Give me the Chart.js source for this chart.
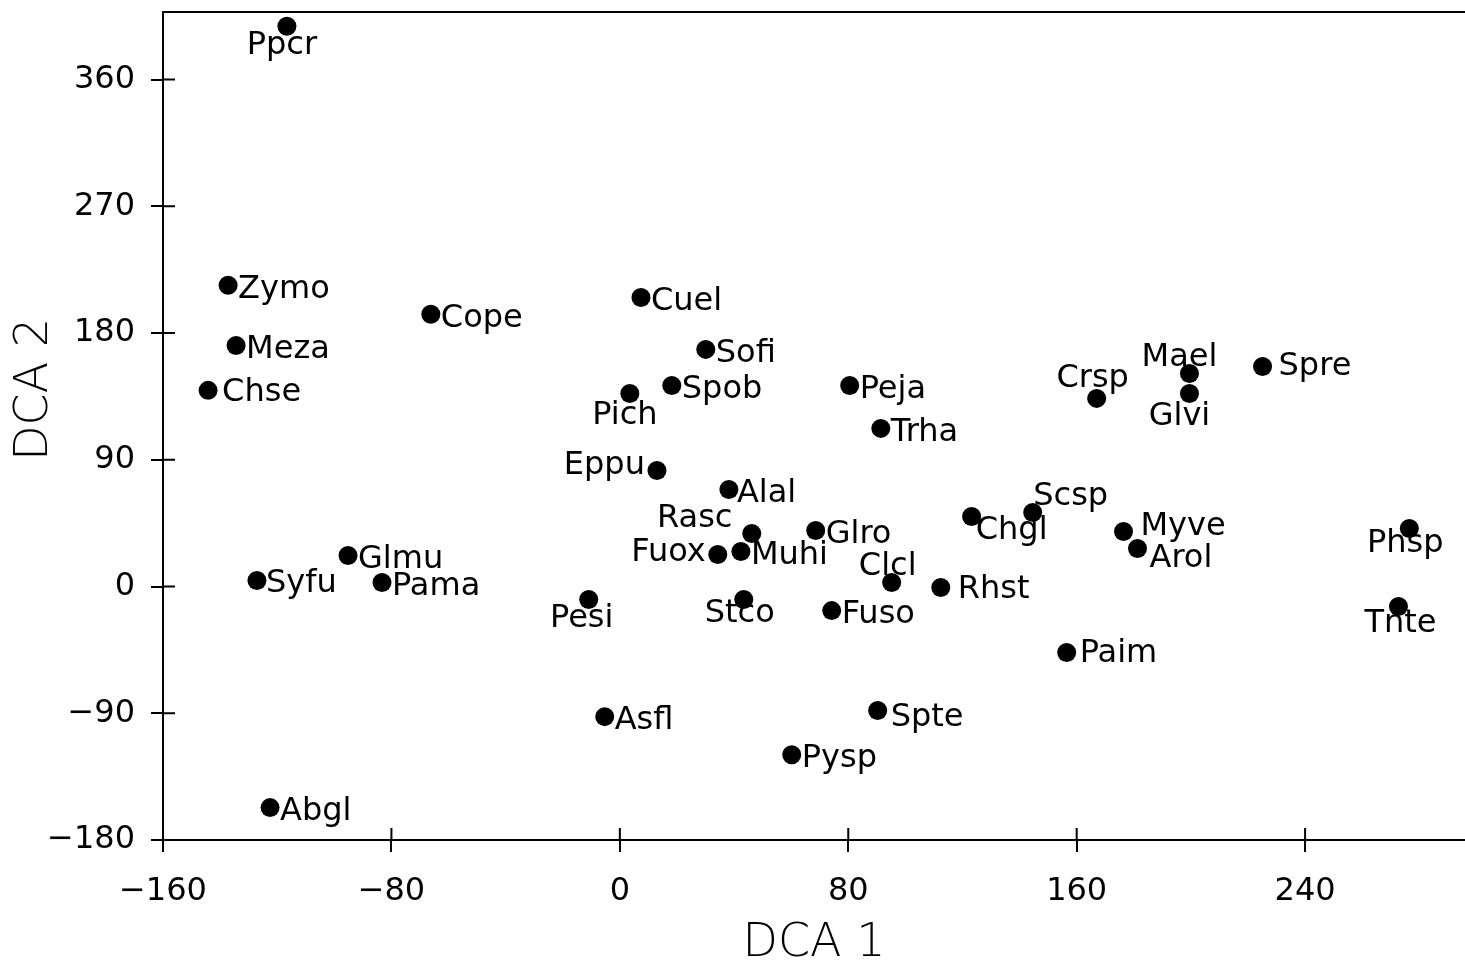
<!DOCTYPE html>
<html>
<head>
<meta charset="utf-8">
<script src="https://cdn.jsdelivr.net/npm/chart.js@4/dist/chart.umd.min.js"></script>
<style>
  html, body { margin: 0; padding: 0; background: #fff; }
  #wrap { width: 1465px; height: 968px; position: relative; }
</style>
</head>
<body>
<div id="wrap"><canvas id="dca"></canvas></div>
<script>
// species codes and their DCA axis scores
const species = ["Ppcr","Zymo","Meza","Chse","Cope","Cuel","Sofi","Spob","Pich","Peja",
  "Trha","Crsp","Mael","Glvi","Spre","Eppu","Alal","Rasc","Glro","Fuox",
  "Muhi","Clcl","Rhst","Chgl","Scsp","Myve","Arol","Phsp","Tnte","Glmu",
  "Syfu","Pama","Pesi","Stco","Fuso","Paim","Asfl","Spte","Pysp","Abgl"];
const dca1 = [-116.6,-137.2,-134.4,-144.2,-66.2,7.4,30.1,18.2,3.5,80.5,
  91.4,167.0,199.5,199.5,225.1,13.0,38.2,46.2,68.6,34.3,
  42.4,95.2,112.4,123.2,144.6,176.4,181.3,276.5,272.7,-95.2,
  -127.1,-83.3,-10.9,43.4,74.2,156.5,-5.3,90.3,60.2,-122.5];
const dca2 = [397.9,213.9,171.2,139.3,193.3,205.3,168.4,142.8,137.1,142.8,
  112.3,133.6,151.3,137.1,156.3,82.4,68.9,37.7,39.8,22.7,
  24.9,2.8,-0.7,49.7,52.6,39.1,27.0,41.2,-14.2,22.0,
  4.3,2.8,-9.2,-9.2,-17.1,-46.9,-92.4,-88.1,-119.4,-157.0];
const xTicks = [-160, -80, 0, 80, 160, 240];
const yTicks = [-180, -90, 0, 90, 180, 270, 360];

// where each name sits relative to its dot: [dx, dy, align]
const labelPlace = {
  Ppcr: [-5, 19, "center"], Pich: [-5, 22, "center"], Pesi: [-7, 19, "center"],
  Glvi: [-10, 23, "center"], Stco: [-4, 14, "center"], Tnte: [2, 17, "center"],
  Phsp: [-4, 15, "center"], Crsp: [-4, -20, "center"], Mael: [-10, -16, "center"],
  Clcl: [-4, -16, "center"], Scsp: [38, -16, "center"], Chgl: [40, 14, "center"],
  Rasc: [-57, -15, "center"], Eppu: [-12, -5, "right"], Fuox: [-12, -2, "right"],
  Spre: [16, 0, "left"], Rhst: [17, 2, "left"], Myve: [17, -5, "left"],
  Arol: [12, 10, "left"], Paim: [13, 1, "left"], Chse: [14, 2, "left"],
  Alal: [8, 4, "left"], Syfu: [9, 3, "left"], Spte: [13, 7, "left"]
};

const points = species.map((s, i) => ({ x: dca1[i], y: dca2[i] }));

const pointNames = {
  id: "pointNames",
  afterDatasetsDraw(chart) {
    const ctx = chart.ctx;
    const meta = chart.getDatasetMeta(0);
    ctx.save();
    ctx.fillStyle = "#000";
    ctx.font = "32px 'DejaVu Sans'";
    ctx.textBaseline = "middle";
    meta.data.forEach((el, i) => {
      const p = labelPlace[species[i]] || [10, 4, "left"];
      ctx.textAlign = p[2];
      ctx.fillText(species[i], el.x + p[0], el.y + p[1]);
    });
    ctx.restore();
  }
};

// tick marks cross the axis lines, so draw the inner half here;
// the vertical axis title sits a little above the middle of the axis
const axisExtras = {
  id: "axisExtras",
  afterDraw(chart) {
    const ctx = chart.ctx;
    const a = chart.chartArea;
    const xs = chart.scales.x, ys = chart.scales.y;
    ctx.save();
    ctx.strokeStyle = "#000";
    ctx.lineWidth = 2;
    ctx.beginPath();
    xTicks.forEach(v => {
      const px = xs.getPixelForValue(v);
      ctx.moveTo(px, a.bottom);
      ctx.lineTo(px, a.bottom - 12);
    });
    yTicks.forEach(v => {
      const py = ys.getPixelForValue(v);
      ctx.moveTo(a.left, py);
      ctx.lineTo(a.left + 12, py);
    });
    ctx.stroke();

    ctx.translate(35, ys.getPixelForValue(140));
    ctx.rotate(-Math.PI / 2);
    ctx.font = "200 46px 'DejaVu Sans'";
    ctx.fillStyle = "#000";
    ctx.textAlign = "center";
    ctx.textBaseline = "middle";
    ctx.fillText("DCA 2", 0, 0);
    ctx.restore();
  }
};

const tickFont = { family: "'DejaVu Sans'", size: 32 };
const titleFont = { family: "'DejaVu Sans'", size: 46, weight: 200, lineHeight: 1 };
const minusFmt = v => String(v).replace("-", "\u2212");

new Chart(document.getElementById("dca"), {
  type: "scatter",
  data: {
    datasets: [{
      data: points,
      pointRadius: 9.5,
      pointHoverRadius: 9.5,
      backgroundColor: "#000",
      borderColor: "#000",
      borderWidth: 0,
      clip: false
    }]
  },
  options: {
    responsive: true,
    maintainAspectRatio: false,
    animation: false,
    layout: { padding: 0, autoPadding: false },
    plugins: { legend: { display: false }, tooltip: { enabled: false } },
    scales: {
      x: {
        type: "linear",
        position: "bottom",
        min: -160,
        max: 296,
        afterBuildTicks: s => { s.ticks = xTicks.map(v => ({ value: v })); },
        afterFit: s => { s.height = 128; s.paddingLeft = 0; s.paddingRight = 0; },
        ticks: { color: "#000", font: tickFont, padding: 20, maxRotation: 0, callback: minusFmt },
        grid: { drawOnChartArea: false, drawTicks: true, tickLength: 12, color: "#000", lineWidth: 2 },
        border: { display: true, color: "#000", width: 2, dash: [44, 6] },
        title: { display: true, text: "DCA 1", color: "#000", font: titleFont, padding: { top: 0, bottom: 1 } }
      },
      x2: {
        type: "linear",
        position: "top",
        min: -160,
        max: 296,
        afterFit: s => { s.height = 12; s.paddingLeft = 0; s.paddingRight = 0; },
        ticks: { display: false },
        grid: { display: false },
        border: { display: true, color: "#000", width: 2, dash: [30, 6] }
      },
      y: {
        type: "linear",
        position: "left",
        min: -180,
        max: 408,
        afterBuildTicks: s => { s.ticks = yTicks.map(v => ({ value: v })); },
        afterFit: s => { s.width = 163; s.paddingTop = 0; s.paddingBottom = 0; },
        ticks: { color: "#000", font: tickFont, padding: 16, callback: minusFmt },
        grid: { drawOnChartArea: false, drawTicks: true, tickLength: 12, color: "#000", lineWidth: 2 },
        border: { display: true, color: "#000", width: 2 }
      }
    }
  },
  plugins: [pointNames, axisExtras]
});
</script>
</body>
</html>
